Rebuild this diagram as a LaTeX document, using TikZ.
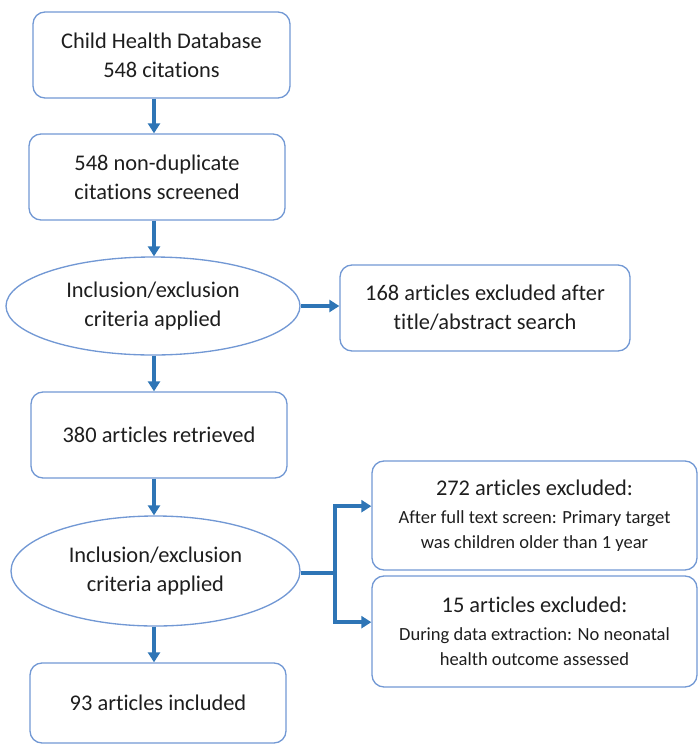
\documentclass[tikz,border=0pt]{standalone}
\usepackage{fontspec}
\setmainfont{Carlito}[Ligatures=CommonOff]
\usetikzlibrary{arrows.meta}
\usetikzlibrary{shapes}
\usepackage{xcolor}

\definecolor{boxline}{RGB}{114,152,212}
\definecolor{flowblue}{RGB}{46,117,182}
\definecolor{txt}{RGB}{30,30,30}

\begin{document}
\begin{tikzpicture}[x=0.75pt,y=0.75pt,yscale=-1,xscale=1,
  stepbox/.style={draw=boxline,line width=1pt,rounded corners=9pt,inner sep=0pt,align=center,text=txt,font=\fontsize{16.8}{21.75}\selectfont},
  critbox/.style={draw=boxline,line width=1pt,ellipse,inner sep=0pt,align=center,text=txt,font=\fontsize{16.8}{21.75}\selectfont},
  flow/.style={draw=flowblue,line width=3pt,-{Triangle[length=7.5pt,width=9pt]}}]
\useasboundingbox (0,0) rectangle (698,744);

%Arrow column
\coordinate (ax) at (154,0);

%Shape: Rounded Rect [id:b1]
\node [stepbox,minimum width=257*0.75pt,minimum height=86*0.75pt] (b1) at (161.5,55) {Child Health Database\\548 citations};
%Shape: Rounded Rect [id:b2]
\node [stepbox,minimum width=256*0.75pt,minimum height=86*0.75pt] (b2) at (157,177) {548 non-duplicate\\citations screened};
%Shape: Ellipse [id:e1]
\node [critbox,minimum width=294*0.75pt,minimum height=98*0.75pt] (e1) at (153,306) {Inclusion/exclusion\\criteria applied};
%Shape: Rounded Rect [id:b3]
\node [stepbox,minimum width=290*0.75pt,minimum height=86*0.75pt] (b3) at (485,308) {168 articles excluded after\\title/abstract search};
%Shape: Rounded Rect [id:b4]
\node [stepbox,minimum width=256*0.75pt,minimum height=86*0.75pt] (b4) at (159,435) {380 articles retrieved};
%Shape: Ellipse [id:e2]
\node [critbox,minimum width=289*0.75pt,minimum height=110*0.75pt] (e2) at (155.5,571) {Inclusion/exclusion\\criteria applied};
%Shape: Rounded Rect [id:b5]
\node [stepbox,minimum width=256*0.75pt,minimum height=80*0.75pt] (b5) at (158,703) {93 articles included};
%Shape: Rounded Rect [id:b6]
\node [stepbox,minimum width=325*0.75pt,minimum height=109*0.75pt] (b6) at (534.5,515.5) {272 articles excluded:\\[-1pt]{\fontsize{13.9}{18}\selectfont After full text screen: Primary target}\\[-3pt]{\fontsize{13.9}{18}\selectfont was children older than 1 year}};
%Shape: Rounded Rect [id:b7]
\node [stepbox,minimum width=325*0.75pt,minimum height=111*0.75pt] (b7) at (534.5,631.5) {15 articles excluded:\\[-1pt]{\fontsize{13.9}{18}\selectfont During data extraction: No neonatal}\\[-3pt]{\fontsize{13.9}{18}\selectfont health outcome assessed}};

%Straight Lines
\draw [flow] (b1.south -| ax) -- (b2.north -| ax);
\draw [flow] (b2.south -| ax) -- (e1.north -| ax);
\draw [flow] (e1.east) -- (e1.east -| b3.west);
\draw [flow] (e1.south -| ax) -- (b4.north -| ax);
\draw [flow] (b4.south -| ax) -- (e2.north -| ax);
\draw [flow] (e2.south -| ax) -- (b5.north -| ax);
%Fork to exclusions
\coordinate (fork) at (335,573);
\draw [flowblue,line width=3pt] (e2.east |- fork) -- (fork);
\draw [flow] (fork) |- ([yshift=-7pt]b6.west);
\draw [flow] (fork) |- ([yshift=-7pt]b7.west);

\end{tikzpicture}
\end{document}
